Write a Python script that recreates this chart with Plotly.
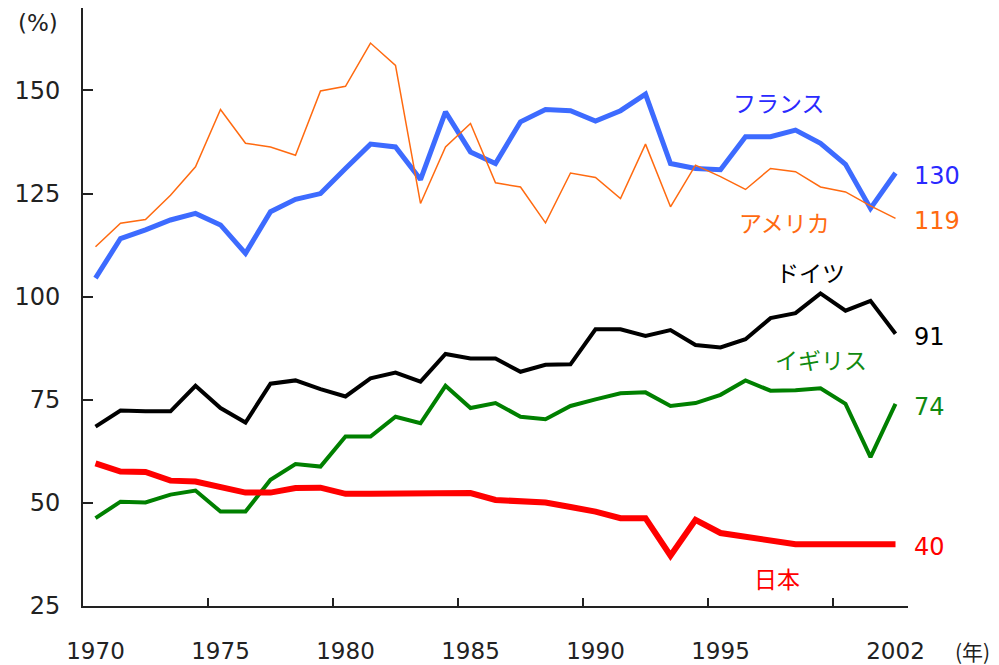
import plotly.graph_objects as go

years = list(range(1970, 2003))

france = [104.5, 114.1, 116.2, 118.6, 120.2, 117.4, 110.5, 120.6, 123.6, 125.0,
          131.1, 137.0, 136.3, 128.4, 144.8, 135.1, 132.3, 142.4, 145.4, 145.1,
          142.6, 145.1, 149.1, 132.3, 131.1, 130.8, 138.8, 138.8, 140.4, 137.2,
          132.1, 121.4, 130.0]
usa = [112.1, 117.8, 118.7, 124.6, 131.5, 145.4, 137.2, 136.3, 134.3, 149.9,
       151.0, 161.5, 156.1, 122.6, 136.3, 142.0, 127.6, 126.6, 117.9, 130.0,
       128.9, 123.8, 137.0, 121.8, 131.9, 129.1, 126.0, 131.1, 130.3, 126.6,
       125.4, 122.0, 119.0]
germany = [68.5, 72.4, 72.2, 72.2, 78.4, 73.0, 69.5, 78.9, 79.7, 77.6,
           75.8, 80.2, 81.6, 79.4, 86.1, 85.0, 85.0, 81.8, 83.5, 83.6,
           92.1, 92.1, 90.5, 91.9, 88.3, 87.7, 89.7, 94.8, 96.0, 100.8,
           96.6, 99.0, 91.0]
uk = [46.3, 50.3, 50.1, 52.0, 53.0, 47.9, 47.9, 55.6, 59.4, 58.8,
      66.1, 66.1, 70.9, 69.3, 78.4, 73.0, 74.2, 70.9, 70.3, 73.5,
      75.1, 76.6, 76.8, 73.5, 74.2, 76.2, 79.7, 77.2, 77.3, 77.8,
      74.0, 61.1, 74.0]
japan = [59.6, 57.6, 57.5, 55.4, 55.2, 54.0, 52.5, 52.5, 53.6, 53.7,
         52.2, 52.2, 52.3, 52.2, 52.5, 52.4, 50.7, 50.3, 50.1, 49.0,
         47.9, 46.3, 46.3, 37.2, 45.9, 42.7, 41.9, 40.9, 40.0, 40.0,
         40.0, 40.0, 40.0]

names = ["フランス", "アメリカ", "ドイツ", "イギリス", "日本"]
x_tick_vals = [1970, 1975, 1980, 1985, 1990, 1995, 2002]
x_tick_text = ["1970", "1975", "1980", "1985", "1990", "1995", "2002"]
x_minor_ticks = [1974.5, 1979.5, 1984.5, 1989.5, 1994.5, 1999.5]
y_tick_vals = [25, 50, 75, 100, 125, 150]

series = [
    (france, "#3d6bff", "#2a2aff", 5, (1997.34, 147.2)),
    (usa, "#ff6a10", "#ff6a10", 1.5, (1997.54, 118.0)),
    (germany, "#000000", "#000000", 4, (1998.58, 105.9)),
    (uk, "#008000", "#108a10", 4, (1999.02, 84.9)),
    (japan, "#ff0000", "#ff0000", 6, (1997.26, 31.7)),
]

FONT = "DejaVu Sans, Noto Sans CJK JP, sans-serif"
JP = "Noto Sans CJK JP, sans-serif"

fig = go.Figure()
annotations = []
for (vals, lc, tc, w, pos), name in zip(series, names):
    fig.add_trace(go.Scatter(x=years, y=vals, mode="lines", name=name,
                             line=dict(color=lc, width=w), showlegend=False,
                             cliponaxis=False, hoverinfo="skip"))
    annotations.append(dict(x=pos[0], y=pos[1], xref="x", yref="y", text=name,
                            showarrow=False, font=dict(family=JP, size=23, color=tc)))
    annotations.append(dict(x=years[-1], y=vals[-1], xref="x", yref="y",
                            text=str(round(vals[-1])), showarrow=False,
                            xanchor="left", xshift=16, yshift=-3,
                            font=dict(family=FONT, size=24, color=tc)))

# plot area: x 83..908 px, y 8..606 px
annotations.append(dict(x=(37.5 - 83) / 825, y=(606.3 - 23) / 598.3, xref="paper", yref="paper",
                        text="(%)", showarrow=False, xanchor="center", yanchor="middle",
                        font=dict(family=FONT, size=23, color="#222")))
annotations.append(dict(x=(972 - 83) / 825, y=(606.3 - 651) / 598.3, xref="paper", yref="paper",
                        text="(年)", showarrow=False, xanchor="center", yanchor="middle",
                        font=dict(family=JP, size=21, color="#222")))

fig.update_layout(
    width=999, height=665,
    margin=dict(l=83, r=91, t=8, b=59, pad=0, autoexpand=False),
    paper_bgcolor="white", plot_bgcolor="white",
    font=dict(family=FONT, size=24, color="#222"),
    annotations=annotations,
    xaxis=dict(range=[1969.5, 2002.5], tickmode="array", tickvals=x_tick_vals,
               ticktext=x_tick_text, ticks="", showgrid=False, zeroline=False,
               showline=True, linecolor="#222", linewidth=2, automargin=False,
               ticklabelstandoff=23, tickfont=dict(size=23),
               minor=dict(tickmode="array", tickvals=x_minor_ticks, ticks="inside",
                          ticklen=8, tickwidth=2, tickcolor="#222", showgrid=False)),
    yaxis=dict(range=[25, 170], tickmode="array", tickvals=y_tick_vals,
               ticks="inside", ticklen=10, tickwidth=2, tickcolor="#222",
               showgrid=False, zeroline=False, showline=True, linecolor="#222",
               linewidth=2, ticklabelstandoff=16, automargin=False),
)

fig.write_html("out.html", config={"displayModeBar": False},
               post_script="document.body.style.margin='0';")
